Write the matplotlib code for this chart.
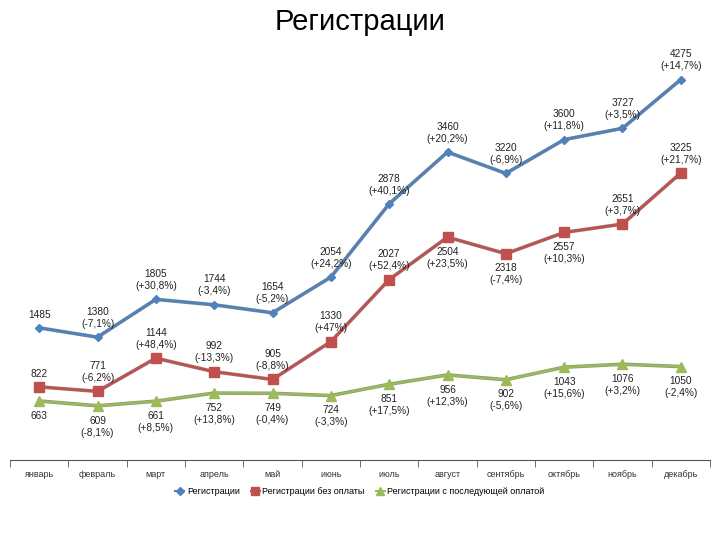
import matplotlib
matplotlib.use('Agg')
import matplotlib.pyplot as plt
import numpy as np

plt.rcParams['font.family'] = ['Liberation Sans', 'DejaVu Sans']

# ===== DATA =====
months = ['январь', 'февраль', 'март', 'апрель', 'май', 'июнь',
          'июль', 'август', 'сентябрь', 'октябрь', 'ноябрь', 'декабрь']

reg_total = [1485, 1380, 1805, 1744, 1654, 2054, 2878, 3460, 3220, 3600, 3727, 4275]
reg_total_pct = ['', '-7,1%', '+30,8%', '-3,4%', '-5,2%', '+24,2%', '+40,1%',
                 '+20,2%', '-6,9%', '+11,8%', '+3,5%', '+14,7%']

reg_unpaid = [822, 771, 1144, 992, 905, 1330, 2027, 2504, 2318, 2557, 2651, 3225]
reg_unpaid_pct = ['', '-6,2%', '+48,4%', '-13,3%', '-8,8%', '+47%', '+52,4%',
                  '+23,5%', '-7,4%', '+10,3%', '+3,7%', '+21,7%']

reg_paid = [663, 609, 661, 752, 749, 724, 851, 956, 902, 1043, 1076, 1050]
reg_paid_pct = ['', '-8,1%', '+8,5%', '+13,8%', '-0,4%', '-3,3%', '+17,5%',
                '+12,3%', '-5,6%', '+15,6%', '+3,2%', '-2,4%']

series_names = ['Регистрации', 'Регистрации без оплаты', 'Регистрации с последующей оплатой']
# ===== DATA =====

fig = plt.figure(figsize=(7.2, 5.4), dpi=100)
ax = fig.add_axes([10 / 720, 1 - 460 / 540, 700 / 720, 445 / 540])
x = np.arange(len(months))

styles = [
    (reg_total, reg_total_pct, '#4F81BD', '#2F4D72', 'D', 4.5),
    (reg_unpaid, reg_unpaid_pct, '#C0504D', '#7A3331', 's', 6.5),
    (reg_paid, reg_paid_pct, '#9BBB59', '#5F7437', '^', 6.5),
]
# label placement: +1 above the point, -1 below
positions = [
    [1] * 12,
    [1, 1, 1, 1, 1, 1, 1, -1, -1, -1, 1, 1],
    [-1] * 12,
]

for (vals, pcts, col, dark, mk, ms), pos, name in zip(styles, positions, series_names):
    ax.plot(x, vals, color=dark, lw=2.6, zorder=2, alpha=0.7)
    ax.plot(x, vals, color=col, lw=1.5, marker=mk, ms=ms, mec=col, mfc=col,
            zorder=3, label=name)
    for i, (v, p) in enumerate(zip(vals, pcts)):
        txt = str(v) if not p else '%d\n(%s)' % (v, p)
        if pos[i] > 0:
            ax.annotate(txt, (x[i], v), xytext=(0, 6), textcoords='offset points',
                        ha='center', va='bottom', fontsize=7.3, linespacing=1.25,
                        color='#222222')
        else:
            ax.annotate(txt, (x[i], v), xytext=(0, -7), textcoords='offset points',
                        ha='center', va='top', fontsize=7.3, linespacing=1.25,
                        color='#222222')

ax.set_xlim(-0.5, len(months) - 0.5)
ax.set_ylim(0, 5000)
for s in ['top', 'right', 'left']:
    ax.spines[s].set_visible(False)
ax.spines['bottom'].set_color('#555555')
ax.set_yticks([])
ax.set_xticks(x)
ax.set_xticklabels(months, fontsize=6.5, color='#333333')
ax.tick_params(axis='x', length=0, pad=7)
ax.set_xticks(np.arange(-0.5, len(months), 1), minor=True)
ax.tick_params(axis='x', which='minor', length=5, color='#555555')

fig.text(0.5, 1 - 22 / 540, 'Регистрации', ha='center', va='center', fontsize=21)

fig.legend(loc='center', bbox_to_anchor=(0.5, 1 - 492 / 540), ncol=3, frameon=False,
           fontsize=6.5, handlelength=1.0, columnspacing=1.2, handletextpad=0.3,
           markerscale=0.8)

fig.savefig('out.png', dpi=100)
